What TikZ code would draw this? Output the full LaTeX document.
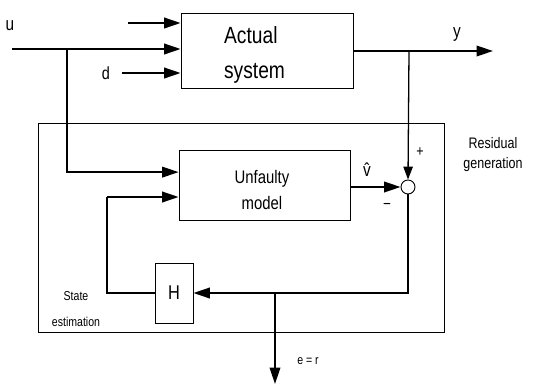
\documentclass[tikz,border=0pt]{standalone}
\usepackage{fontspec}
\setmainfont{Liberation Sans}[FakeStretch=0.82]
\usepackage{tikz}
\usetikzlibrary{calc, positioning, arrows.meta}

\begin{document}
\begin{tikzpicture}[x=0.03cm, y=-0.03cm,
  block/.style={draw, line width=0.7pt, inner sep=0pt},
  sig/.style={line width=1.6pt, -{Triangle[length=14pt,width=9pt]}},
  tap/.style={line width=1.1pt},
  small/.style={line width=1.1pt, -{Triangle[length=11pt,width=8pt]}}]
  \useasboundingbox (0,0) rectangle (533,385);
  % residual generator frame
  \draw[line width=0.6pt] (38,123) rectangle (444,332);
  % blocks
  \node[block, minimum width=5.16cm, minimum height=2.25cm] (plant) at (267,50.5) {};
  \node[font=\fontsize{20}{30}\selectfont, align=left, anchor=west] (plantlbl) at (220,55) {Actual\\system};
  \node[block, minimum width=5.13cm, minimum height=2.1cm] (model) at (264.5,185) {};
  \node[font=\fontsize{15.5}{23}\selectfont, align=center] (modellbl) at (262,190) {Unfaulty\\model};
  \node[block, minimum width=1.14cm, minimum height=1.8cm,
        font=\fontsize{17}{18}\selectfont] (H) at (174,293) {H};
  \node[circle, draw, line width=0.8pt, minimum size=0.42cm, inner sep=0pt] (sum) at (408,187) {};
  % inputs
  \coordinate (top) at (128,23);
  \coordinate (uin) at (12,49);
  \coordinate (dstart) at (122,73);
  \coordinate (ubr) at (67,49);
  \draw[sig] (top) -- (top -| plant.west);
  \draw[sig] (uin) -- (uin -| plant.west);
  \draw[sig] (dstart) -- (dstart -| plant.west);
  \node[font=\fontsize{16}{18}\selectfont] (ulbl) at (10,26) {u};
  \node[font=\fontsize{15}{16}\selectfont] (dlbl) at (106,73) {d};
  % output
  \coordinate (yout) at (493,51);
  \coordinate (ybr) at (409,51);
  \draw[sig] (plant.east |- yout) -- (yout);
  \node[font=\fontsize{16}{18}\selectfont] (ylbl) at (457,34) {y};
  \draw[small] (ybr) -- (sum.north);
  \node[font=\fontsize{13}{14}\selectfont] (plus) at (420,152) {+};
  % model input from u
  \draw[sig] (ubr) |- ([yshift=11pt]model.west);
  % model output
  \draw[sig] (model.east |- sum) -- (sum.west);
  \node[font=\fontsize{16}{18}\selectfont] (vhat) at (367,170) {\^{v}};
  \node[font=\fontsize{14}{14}\selectfont] (minus) at (387,206) {−};
  % feedback through H
  \draw[sig] (sum.south) |- (H.east);
  \coordinate (fb) at (107,197);
  \draw[tap] (H.west) -| (fb);
  \draw[sig] (fb) -- (fb -| model.west);
  % residual
  \coordinate (rtap) at (275,293);
  \coordinate (rend) at (275,384);
  \draw[sig] (rtap) -- (rend);
  \node[font=\fontsize{11}{12}\selectfont] (rlbl) at (308,361) {e = r};
  % captions
  \node[font=\fontsize{13}{17}\selectfont, align=center] (reslbl) at (493,155) {Residual\\generation};
  \node[font=\fontsize{11}{22}\selectfont, align=center] (estlbl) at (76,309) {State\\estimation};
\end{tikzpicture}
\end{document}
